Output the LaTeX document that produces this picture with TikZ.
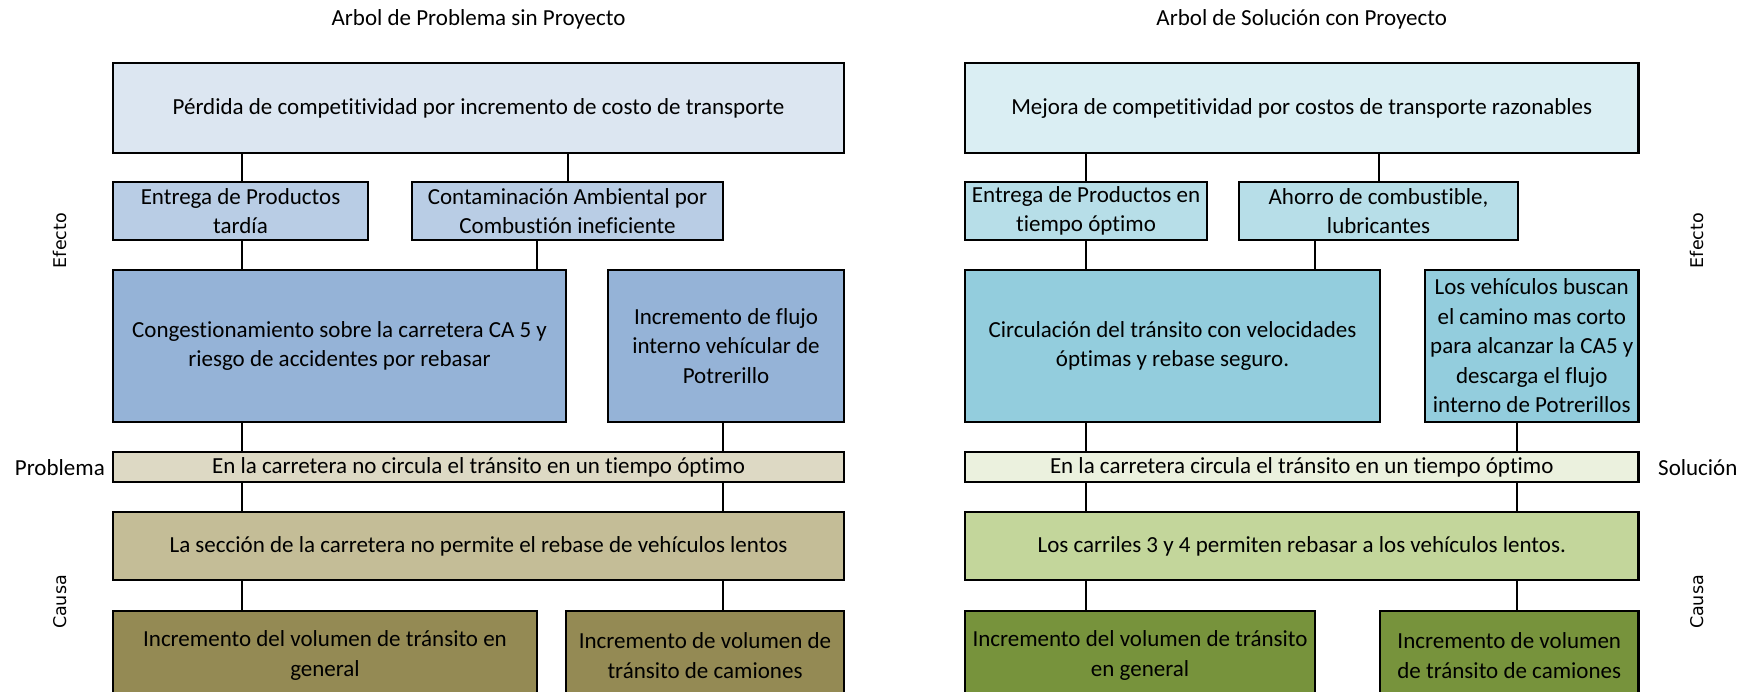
\documentclass[tikz,border=0pt]{standalone}
\usepackage{fontspec}
\setmainfont{Carlito}[Ligatures=NoCommon]
\newfontfamily\dejavu{DejaVu Sans}
\definecolor{LA}{HTML}{DCE6F1}
\definecolor{LB}{HTML}{B9CDE5}
\definecolor{LC}{HTML}{95B3D7}
\definecolor{LP}{HTML}{DDD9C4}
\definecolor{LD}{HTML}{C4BD97}
\definecolor{LE}{HTML}{948A54}
\definecolor{RA}{HTML}{DAEEF3}
\definecolor{RB}{HTML}{B7DEE8}
\definecolor{RC}{HTML}{93CDDD}
\definecolor{RP}{HTML}{EBF1DE}
\definecolor{RD}{HTML}{C3D69B}
\definecolor{RE}{HTML}{77933C}
\tikzset{
  box/.style={draw=black, line width=2.5pt, align=center, inner sep=1pt, text=black,
    font=\fontsize{23}{29.5}\selectfont},
  conn/.style={draw=black, line width=2pt},
  lbl/.style={inner sep=0pt, text=black, font=\fontsize{23}{29.5}\selectfont},
  side/.style={inner sep=0pt, text=black, rotate=90, font=\dejavu\fontsize{17.5}{20}\selectfont}
}
\begin{document}
\begin{tikzpicture}[x=1pt,y=-1pt]
\clip (0,0) rectangle (1752,691);
\fill[white] (0,0) rectangle (1752,691);
% ---------- Left tree ----------
\node[lbl] (tl) at (478.5,19) {Arbol de Problema sin Proyecto};
\node[box, fill=LA, minimum width=731, minimum height=90] (ltop) at (478.5,108)
  {P\'erdida de competitividad por incremento de costo de transporte};
\node[box, fill=LB, minimum width=255, minimum height=58] (le1) at (240.5,211)
  {Entrega de Productos\\tard\'ia};
\node[box, fill=LB, minimum width=311, minimum height=58] (le2) at (567.5,211)
  {Contaminaci\'on Ambiental por\\Combusti\'on ineficiente};
\node[box, fill=LC, minimum width=453, minimum height=152] (lr1) at (339.5,346)
  {Congestionamiento sobre la carretera CA 5 y\\riesgo de accidentes por rebasar};
\node[box, fill=LC, minimum width=236, minimum height=152] (lr2) at (726,346)
  {Incremento de flujo\\interno veh\'icular de\\Potrerillo};
\node[box, fill=LP, minimum width=731, minimum height=30] (lp) at (478.5,467)
  {En la carretera no circula el tr\'ansito en un tiempo \'optimo};
\node[box, fill=LD, minimum width=731, minimum height=68] (lc) at (478.5,546)
  {La secci\'on de la carretera no permite el rebase de veh\'iculos lentos};
\node[box, fill=LE, minimum width=424, minimum height=89] (lb1) at (325,655.5)
  {Incremento del volumen de tr\'ansito en\\general};
\node[box, fill=LE, minimum width=278, minimum height=89] (lb2) at (705,655.5)
  {Incremento de volumen de\\tr\'ansito de camiones};
\node[side] (lef) at (60,240.5) {Efecto};
\node[side] (lca) at (60,602) {Causa};
\node[lbl, anchor=east] (lpl) at (105,468) {Problema};
% columns
\coordinate (xa) at (242,0);
\coordinate (xb) at (567.5,0);
\coordinate (xc) at (537,0);
\coordinate (xd) at (723,0);
\draw[conn] (ltop.south -| xa) -- (le1.north -| xa);
\draw[conn] (ltop.south -| xb) -- (le2.north -| xb);
\draw[conn] (le1.south -| xa) -- (lr1.north -| xa);
\draw[conn] (le2.south -| xc) -- (lr1.north -| xc);
\draw[conn] (lr1.south -| xa) -- (lp.north -| xa);
\draw[conn] (lr2.south -| xd) -- (lp.north -| xd);
\draw[conn] (lp.south -| xa) -- (lc.north -| xa);
\draw[conn] (lp.south -| xd) -- (lc.north -| xd);
\draw[conn] (lc.south -| xa) -- (lb1.north -| xa);
\draw[conn] (lc.south -| xd) -- (lb2.north -| xd);
% ---------- Right tree ----------
\node[lbl] (tr) at (1301.75,19) {Arbol de Soluci\'on con Proyecto};
\node[box, fill=RA, minimum width=673.5, minimum height=90] (rtop) at (1301.75,108)
  {Mejora de competitividad por costos de transporte razonables};
\node[box, fill=RB, minimum width=242, minimum height=58] (re1) at (1086,211)
  {Entrega de Productos en\\tiempo \'optimo};
\node[box, fill=RB, minimum width=279, minimum height=58] (re2) at (1378.5,211)
  {Ahorro de combustible,\\lubricantes};
\node[box, fill=RC, minimum width=415, minimum height=152] (rr1) at (1172.5,346)
  {Circulaci\'on del tr\'ansito con velocidades\\\'optimas y rebase seguro.};
\node[box, fill=RC, minimum width=213.5, minimum height=152] (rr2) at (1531.75,346)
  {Los veh\'iculos buscan\\el camino mas corto\\para alcanzar la CA5 y\\descarga el flujo\\interno de Potrerillos};
\node[box, fill=RP, minimum width=673.5, minimum height=30] (rp) at (1301.75,467)
  {En la carretera circula el tr\'ansito en un tiempo \'optimo};
\node[box, fill=RD, minimum width=673.5, minimum height=68] (rc) at (1301.75,546)
  {Los carriles 3 y 4 permiten rebasar a los veh\'iculos lentos.};
\node[box, fill=RE, minimum width=350, minimum height=89] (rb1) at (1140,655.5)
  {Incremento del volumen de tr\'ansito\\en general};
\node[box, fill=RE, minimum width=258.5, minimum height=89] (rb2) at (1509.25,655.5)
  {Incremento de volumen\\de tr\'ansito de camiones};
\node[side] (ref) at (1697,240.5) {Efecto};
\node[side] (rca) at (1697,602) {Causa};
\node[lbl, anchor=west] (rsl) at (1658,468) {Soluci\'on};
\coordinate (ya) at (1086,0);
\coordinate (yb) at (1378.5,0);
\coordinate (yc) at (1314.5,0);
\coordinate (yd) at (1517,0);
\draw[conn] (rtop.south -| ya) -- (re1.north -| ya);
\draw[conn] (rtop.south -| yb) -- (re2.north -| yb);
\draw[conn] (re1.south -| ya) -- (rr1.north -| ya);
\draw[conn] (re2.south -| yc) -- (rr1.north -| yc);
\draw[conn] (rr1.south -| ya) -- (rp.north -| ya);
\draw[conn] (rr2.south -| yd) -- (rp.north -| yd);
\draw[conn] (rp.south -| ya) -- (rc.north -| ya);
\draw[conn] (rp.south -| yd) -- (rc.north -| yd);
\draw[conn] (rc.south -| ya) -- (rb1.north -| ya);
\draw[conn] (rc.south -| yd) -- (rb2.north -| yd);
\end{tikzpicture}
\end{document}
